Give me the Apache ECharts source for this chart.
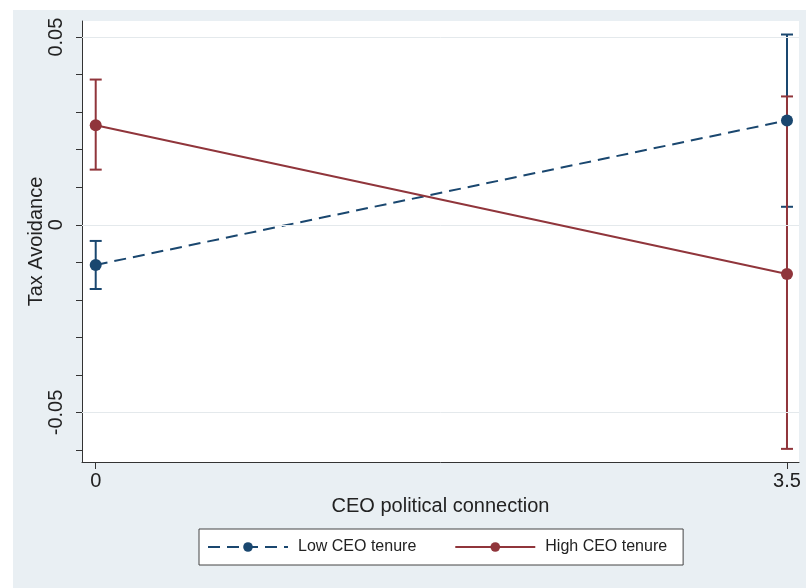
<!DOCTYPE html>
<html>
<head>
<meta charset="utf-8">
<script src="https://cdn.jsdelivr.net/npm/echarts@6/dist/echarts.min.js"></script>
<style>html,body{margin:0;padding:0;background:#fff}#c{width:806px;height:588px}</style>
</head>
<body>
<div id="c"></div>
<script>
// ---- data ----
const xValues = [0, 3.5];
const xTickValues = [0, 3.5];
const lowMean = [-0.0107, 0.0278];
const lowLo = [-0.0171, 0.0048];
const lowHi = [-0.0043, 0.0507];
const highMean = [0.0265, -0.0131];
const highLo = [0.0147, -0.0597];
const highHi = [0.0387, 0.0342];
const yTickValues = [-0.06, -0.05, -0.04, -0.03, -0.02, -0.01, 0, 0.01, 0.02, 0.03, 0.04, 0.05];
const yLabelValues = [-0.05, 0, 0.05];
const gridValues = [-0.05, 0, 0.05];
const seriesNames = ['Low CEO tenure', 'High CEO tenure'];

const BLUE = '#1a476f', RED = '#90353b';
const FONT = '"Liberation Sans", Arial, sans-serif';

function ciItem(color) {
  return function (params, api) {
    const x = api.value(0);
    const p1 = api.coord([x, api.value(1)]);
    const p2 = api.coord([x, api.value(2)]);
    const hw = 6;
    const st = { stroke: color, lineWidth: 2 };
    return {
      type: 'group',
      children: [
        { type: 'line', shape: { x1: p1[0], y1: p1[1], x2: p2[0], y2: p2[1] }, style: st },
        { type: 'line', shape: { x1: p1[0] - hw, y1: p1[1], x2: p1[0] + hw, y2: p1[1] }, style: st },
        { type: 'line', shape: { x1: p2[0] - hw, y1: p2[1], x2: p2[0] + hw, y2: p2[1] }, style: st }
      ]
    };
  };
}

const chart = echarts.init(document.getElementById('c'), null, { renderer: 'canvas' });
chart.setOption({
  backgroundColor: '#ffffff',
  animation: false,
  textStyle: { fontFamily: FONT },
  graphic: [{
    type: 'rect', z: -10, silent: true,
    shape: { x: 13, y: 10, width: 793, height: 578 },
    style: { fill: '#e9eff3' }
  }],
  grid: {
    left: 82, right: 7, top: 21, bottom: 126,
    show: true, backgroundColor: '#ffffff', borderWidth: 0
  },
  legend: {
    data: seriesNames,
    left: 199, top: 529,
    padding: [10, 16, 10, 8],
    itemGap: 38,
    itemWidth: 80, itemHeight: 12,
    backgroundColor: '#ffffff',
    borderColor: '#444', borderWidth: 1,
    textStyle: { fontSize: 16, color: '#222', fontFamily: FONT, padding: [0, 0, 0, 5] }
  },
  xAxis: {
    type: 'value',
    min: -0.0694, max: 3.5608,
    name: 'CEO political connection',
    nameLocation: 'middle', nameGap: 34, nameMoveOverlap: false,
    nameTextStyle: { fontSize: 20, color: '#222', fontFamily: FONT },
    axisLine: { show: true, onZero: false, lineStyle: { color: '#333', width: 1 } },
    axisTick: { show: true, length: 7, customValues: xTickValues, lineStyle: { color: '#333' } },
    axisLabel: { customValues: xTickValues, fontSize: 20, color: '#222', margin: 9, fontFamily: FONT },
    splitLine: { show: false }
  },
  yAxis: {
    type: 'value',
    min: -0.0632, max: 0.0543,
    name: 'Tax Avoidance',
    nameLocation: 'middle', nameGap: 36, nameRotate: 90, nameMoveOverlap: false,
    nameTextStyle: { fontSize: 20, color: '#222', fontFamily: FONT },
    axisLine: { show: true, onZero: false, lineStyle: { color: '#333', width: 1 } },
    axisTick: { show: true, length: 6, customValues: yTickValues, lineStyle: { color: '#333' } },
    axisLabel: {
      customValues: yLabelValues, rotate: 90, fontSize: 20, color: '#222', margin: 16, fontFamily: FONT,
      formatter: function (v) { return String(Math.round(v * 100) / 100); }
    },
    splitLine: { show: false }
  },
  series: [
    {
      type: 'line', name: '__grid', data: [], silent: true, z: 0,
      markLine: {
        silent: true, symbol: 'none', label: { show: false },
        lineStyle: { color: '#e4e9ec', width: 1, type: 'solid' },
        data: gridValues.map(v => ({ yAxis: v }))
      }
    },
    {
      type: 'custom', name: 'ciLow', z: 2,
      renderItem: ciItem(BLUE),
      encode: { x: 0, y: [1, 2] },
      data: xValues.map((x, i) => [x, lowLo[i], lowHi[i]])
    },
    {
      type: 'custom', name: 'ciHigh', z: 3,
      renderItem: ciItem(RED),
      encode: { x: 0, y: [1, 2] },
      data: xValues.map((x, i) => [x, highLo[i], highHi[i]])
    },
    {
      type: 'line', name: seriesNames[0], z: 4,
      data: xValues.map((x, i) => [x, lowMean[i]]),
      symbol: 'circle', symbolSize: 12,
      itemStyle: { color: BLUE },
      lineStyle: { color: BLUE, width: 2, type: [12, 7] }
    },
    {
      type: 'line', name: seriesNames[1], z: 5,
      data: xValues.map((x, i) => [x, highMean[i]]),
      symbol: 'circle', symbolSize: 12,
      itemStyle: { color: RED },
      lineStyle: { color: RED, width: 2, type: 'solid' }
    }
  ]
});
</script>
</body>
</html>
